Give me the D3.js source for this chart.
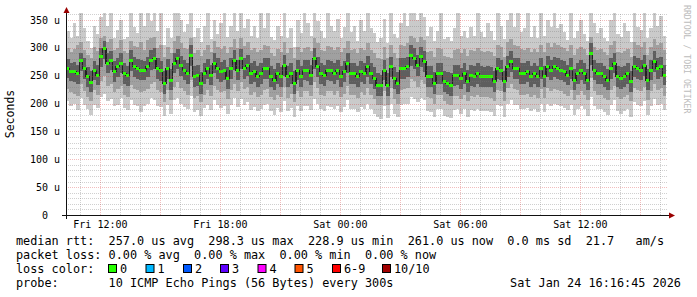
<!DOCTYPE html>
<html>
<head>
<meta charset="utf-8">
<script src="https://cdn.jsdelivr.net/npm/d3@7"></script>
<style>
  html, body { margin: 0; padding: 0; background: #fff; }
  svg { display: block; }
  text { font-family: "DejaVu Sans Mono", monospace; white-space: pre; }
</style>
</head>
<body>
<svg class="chart" width="697" height="297"></svg>
<script>
// 30 hours of smokeping data, one bin every 10 minutes (values in microseconds)
const startTime = Date.UTC(2026, 0, 23, 10, 16, 45);
const endTime = Date.UTC(2026, 0, 24, 16, 16, 45);
const stepMinutes = 10;

const median = [
  263,257,257,254,277,263,248,237,260,251,284,299,272,278,257,266,272,254,251,278,
  266,263,260,260,266,278,281,263,260,236,263,242,272,281,269,260,254,287,248,251,
  236,254,263,251,272,263,257,260,245,263,278,260,281,263,269,254,257,248,254,263,
  263,248,242,254,248,269,248,254,236,260,248,260,260,251,281,266,254,251,260,260,
  254,260,248,257,272,254,254,248,257,254,266,254,245,233,233,260,233,266,245,236,
  263,263,266,287,281,269,284,275,248,248,236,254,254,239,236,233,251,251,245,254,
  239,251,248,254,248,248,248,248,239,263,260,239,266,275,263,263,254,254,257,248,
  254,248,263,248,266,260,266,263,260,257,251,263,242,254,260,254,242,290,260,254,
  254,248,242,263,272,248,245,248,254,239,266,263,260,269,242,260,275,263,266,251
];

// innermost (dark) smoke band
const hi3 = [
  280,272,275,270,290,281,266,258,276,270,300,312,290,295,276,282,290,272,268,296,
  283,280,278,276,284,296,300,281,276,258,280,262,290,298,286,278,272,305,268,270,
  256,272,280,270,290,282,275,278,265,282,296,278,298,282,288,272,276,268,272,281,
  282,268,262,272,266,288,268,272,258,278,268,278,279,270,300,284,272,270,278,277,
  272,278,268,276,290,273,272,268,276,272,285,272,265,254,252,278,255,284,266,256,
  282,282,284,305,300,288,302,294,268,268,256,272,273,258,256,254,270,270,264,273,
  260,270,267,272,267,266,268,266,258,282,279,258,285,294,282,282,273,272,276,268,
  273,268,282,268,285,279,284,282,279,276,270,282,262,272,279,273,262,308,279,273,
  273,268,262,282,290,267,265,268,273,258,285,282,279,288,262,279,294,282,284,270
];
const lo3 = [
  246,240,238,236,258,244,230,220,242,233,266,280,254,260,238,248,254,236,232,258,
  248,245,242,242,248,260,262,245,240,218,245,224,254,262,250,242,236,268,230,232,
  218,236,244,233,254,245,238,242,226,244,260,242,262,245,250,236,238,230,236,244,
  245,230,224,236,230,250,230,236,218,242,230,242,241,233,262,248,236,232,242,241,
  236,242,230,238,254,236,235,230,238,236,248,236,226,214,214,242,214,248,226,218,
  244,245,248,268,262,250,266,256,230,229,218,236,236,220,218,214,232,233,226,236,
  220,232,230,236,229,230,230,229,220,245,242,220,248,256,245,244,236,235,238,230,
  236,230,245,229,248,242,247,245,242,238,233,245,224,236,242,236,224,270,242,236,
  236,229,224,245,254,230,226,230,236,220,248,245,242,250,224,242,256,245,248,233
];

// middle smoke band
const hi2 = [
  300,292,298,305,310,296,288,282,302,294,318,322,310,316,296,300,314,295,290,312,
  304,302,310,296,315,318,320,300,306,284,302,290,312,322,308,300,298,318,290,296,
  285,296,306,292,312,302,298,304,290,302,316,300,318,304,310,296,300,292,296,306,
  304,290,286,298,292,310,290,300,282,302,292,300,302,294,318,308,296,294,304,302,
  296,302,292,300,312,296,298,290,300,296,308,296,290,282,280,302,282,306,290,282,
  306,304,308,322,318,310,320,314,292,294,284,300,298,286,284,282,296,298,290,298,
  286,296,294,300,294,292,294,292,286,306,302,284,310,316,306,304,298,296,300,292,
  298,292,306,292,308,302,308,306,302,300,294,306,288,298,302,298,288,320,302,296,
  298,292,288,306,312,292,290,294,298,284,310,306,302,310,288,302,316,306,308,296
];
const lo2 = [
  226,220,218,214,236,222,212,204,224,216,240,250,232,236,220,226,232,216,212,234,
  226,224,220,222,226,236,238,224,220,202,224,206,230,238,228,222,216,242,210,214,
  202,216,224,214,232,224,220,222,208,224,236,222,238,226,230,216,220,212,216,224,
  226,212,206,216,212,230,210,218,202,222,212,222,222,214,238,228,216,214,222,222,
  216,222,212,218,232,216,216,210,220,216,228,216,208,198,198,222,198,228,208,200,
  224,226,228,244,240,230,242,236,212,210,200,216,216,204,200,198,214,214,208,216,
  204,214,212,216,212,212,212,210,204,224,222,204,228,236,226,224,216,216,218,212,
  216,210,226,210,228,222,226,224,222,218,214,224,206,216,222,216,206,246,222,216,
  216,210,206,224,232,212,208,212,216,204,228,224,222,230,206,222,236,224,228,214
];

// outer (light) smoke band: min and max ping
const hi1 = [
  330,318,345,322,362,336,312,300,340,325,355,362,340,362,318,332,350,316,320,362,
  338,326,362,340,362,348,362,330,362,305,336,318,362,362,350,328,342,362,320,335,
  310,340,362,316,350,325,345,362,320,340,362,330,362,335,352,322,340,318,362,335,
  362,320,315,340,322,362,318,335,302,350,326,362,345,322,362,348,330,318,362,340,
  330,352,318,338,362,328,340,312,350,330,362,335,326,310,318,352,308,362,325,318,
  345,362,340,362,362,350,362,355,322,338,312,330,362,316,320,312,336,362,322,330,
  318,338,322,362,328,320,345,330,314,362,340,316,350,362,338,362,328,335,362,320,
  340,318,362,322,350,338,362,335,342,328,315,362,318,330,350,325,312,362,345,326,
  336,318,312,350,362,325,320,345,330,310,362,338,332,362,318,335,362,340,358,322
];
const lo1 = [
  205,196,200,188,210,198,190,180,198,192,212,218,205,208,195,198,210,192,188,206,
  198,196,184,196,200,210,206,196,194,178,198,182,206,210,200,194,190,214,184,188,
  178,192,198,188,206,198,192,196,182,198,210,194,208,198,202,188,194,186,190,198,
  200,186,180,192,184,204,186,192,176,196,186,196,196,188,208,200,190,186,196,194,
  190,196,184,194,206,190,190,184,194,190,200,190,182,176,172,196,174,200,182,176,
  198,200,200,212,208,202,210,206,186,184,176,190,190,178,176,174,188,190,182,190,
  176,188,186,190,186,186,186,184,178,198,196,176,200,206,198,198,190,190,192,186,
  190,184,200,184,200,196,200,198,196,192,188,198,180,190,196,190,178,212,196,190,
  190,184,180,198,206,186,182,186,190,176,202,198,196,204,180,196,208,198,200,188
];

const yTicks = [0, 50, 100, 150, 200, 250, 300, 350];
const yTickLabels = ["0  ", "50 u", "100 u", "150 u", "200 u", "250 u", "300 u", "350 u"];

const legendRows = [
  "median rtt:  257.0 us avg  298.3 us max  228.9 us min  261.0 us now  0.0 ms sd  21.7   am/s",
  "packet loss: 0.00 % avg  0.00 % max  0.00 % min  0.00 % now",
  "loss color:",
  "probe:       10 ICMP Echo Pings (56 Bytes) every 300s"
];
const stampText = "Sat Jan 24 16:16:45 2026";
const lossLabels = ["0", "1", "2", "3", "4", "5", "6-9", "10/10"];
const lossColors = ["#26ff00", "#00b8ff", "#0059ff", "#5e00ff", "#ff00ff", "#ff5500", "#ff0000", "#a10000"];

const svg = d3.select(".chart");

const left = 66, right = 666, bottom = 215;

const x = d3.scaleUtc().domain([startTime, endTime]).range([left, right]);
const y = d3.scaleLinear().domain([0, 350]).range([bottom, 20]);

const binStart = (i) => startTime + i * stepMinutes * 60000;
const binX0 = (i) => x(binStart(i));
const binW = (i) => x(binStart(i + 1)) - x(binStart(i));

const plot = svg.append("g").attr("shape-rendering", "crispEdges");

// smoke bands, light to dark
const bands = [
  { lo: lo1, hi: hi1, color: "#cacaca" },
  { lo: lo2, hi: hi2, color: "#a0a0a0" },
  { lo: lo3, hi: hi3, color: "#5e5e5e" },
];

bands.forEach((band) => {
  plot
    .append("g")
    .selectAll("rect")
    .data(median)
    .enter()
    .append("rect")
    .attr("x", (d, i) => binX0(i))
    .attr("width", (d, i) => binW(i) + 0.4)
    .attr("y", (d, i) => y(band.hi[i]))
    .attr("height", (d, i) => y(band.lo[i]) - y(band.hi[i]))
    .attr("fill", band.color);
});

// dark step line joining the medians
const medLine = d3
  .line()
  .x((d, i) => binX0(i))
  .y((d) => y(d))
  .curve(d3.curveStepAfter);

plot
  .append("path")
  .attr("d", medLine(median.concat([median[median.length - 1]])))
  .attr("fill", "none")
  .attr("stroke", "#222")
  .attr("stroke-width", 1.2);

// grid (drawn over the smoke, like rrdtool)
const grid = svg.append("g").attr("shape-rendering", "crispEdges");
const minorColor = "rgba(120,120,120,0.35)";
const majorColor = "rgba(215,50,50,0.32)";

const minorY = d3.range(10, 361, 10).filter((v) => v % 50 !== 0);
grid
  .selectAll(".hminor")
  .data(minorY)
  .enter()
  .append("line")
  .attr("x1", left)
  .attr("x2", 668)
  .attr("y1", (d) => Math.round(y(d)) + 0.5)
  .attr("y2", (d) => Math.round(y(d)) + 0.5)
  .attr("stroke", minorColor)
  .attr("stroke-dasharray", "1,1");

const hours = d3.utcHour.range(startTime, endTime);
grid
  .selectAll(".vminor")
  .data(hours.filter((h) => h.getUTCHours() % 3 !== 0))
  .enter()
  .append("line")
  .attr("x1", (d) => Math.round(x(d)) + 0.5)
  .attr("x2", (d) => Math.round(x(d)) + 0.5)
  .attr("y1", 14)
  .attr("y2", bottom)
  .attr("stroke", minorColor)
  .attr("stroke-dasharray", "1,1");

grid
  .selectAll(".hmajor")
  .data(yTicks.slice(1))
  .enter()
  .append("line")
  .attr("x1", left)
  .attr("x2", 668)
  .attr("y1", (d) => Math.round(y(d)) + 0.5)
  .attr("y2", (d) => Math.round(y(d)) + 0.5)
  .attr("stroke", majorColor)
  .attr("stroke-dasharray", "1,1");

grid
  .selectAll(".vmajor")
  .data(hours.filter((h) => h.getUTCHours() % 3 === 0))
  .enter()
  .append("line")
  .attr("x1", (d) => Math.round(x(d)) + 0.5)
  .attr("x2", (d) => Math.round(x(d)) + 0.5)
  .attr("y1", 14)
  .attr("y2", bottom)
  .attr("stroke", majorColor)
  .attr("stroke-dasharray", "1,1");

// green median marks on top
plot
  .append("g")
  .selectAll("rect")
  .data(median)
  .enter()
  .append("rect")
  .attr("x", (d, i) => binX0(i))
  .attr("width", (d, i) => binW(i))
  .attr("y", (d) => y(d) - 1.5)
  .attr("height", 3)
  .attr("fill", lossColors[0]);

// axes
const axis = svg.append("g").attr("shape-rendering", "crispEdges");
axis.append("line").attr("x1", 62).attr("x2", 670).attr("y1", bottom + 0.5).attr("y2", bottom + 0.5).attr("stroke", "#111");
axis.append("line").attr("x1", left + 0.5).attr("x2", left + 0.5).attr("y1", 219).attr("y2", 12).attr("stroke", "#111");
svg.append("path").attr("d", `M${left - 2.5},13 L${left + 3.5},13 L${left + 0.5},7 Z`).attr("fill", "#9a0000");
svg.append("path").attr("d", `M669,${bottom - 2.5} L669,${bottom + 3.5} L675,${bottom + 0.5} Z`).attr("fill", "#9a0000");

// y tick labels
svg
  .append("g")
  .selectAll("text")
  .data(yTicks)
  .enter()
  .append("text")
  .attr("x", 60)
  .attr("y", (d) => y(d) + 3.6)
  .attr("text-anchor", "end")
  .attr("font-size", 10)
  .attr("fill", "#000")
  .text((d, i) => yTickLabels[i]);

// x tick labels every 6 hours
const labelHours = hours.filter((h) => h.getUTCHours() % 6 === 0);
const fmt = d3.utcFormat("%a %H:%M");
svg
  .append("g")
  .selectAll("text")
  .data(labelHours)
  .enter()
  .append("text")
  .attr("x", (d) => x(d))
  .attr("y", 227.5)
  .attr("text-anchor", "middle")
  .attr("font-size", 10)
  .attr("fill", "#000")
  .text((d) => fmt(d));

// axis title
svg
  .append("text")
  .attr("transform", "translate(14,114) rotate(-90)")
  .attr("text-anchor", "middle")
  .attr("font-size", 11.5)
  .attr("fill", "#000")
  .text("Seconds");

// watermark
svg
  .append("text")
  .attr("transform", "translate(683.5,5) rotate(90)")
  .attr("font-size", 8.2)
  .attr("fill", "#bcbcbc")
  .text("RRDTOOL / TOBI OETIKER");

// legend
const legendSize = 11.83;
const legend = svg.append("g").attr("font-size", legendSize).attr("fill", "#000");
legendRows.forEach((row, i) => {
  legend.append("text").attr("x", 16).attr("y", 244.5 + i * 14).text(row);
});
legend.append("text").attr("x", 681).attr("y", 244.5 + 3 * 14).attr("text-anchor", "end").text(stampText);

const boxX = [108, 145.5, 183, 220, 257.5, 294.5, 332, 382];
const lossG = svg.append("g");
lossG
  .selectAll("rect")
  .data(lossLabels)
  .enter()
  .append("rect")
  .attr("x", (d, i) => boxX[i] + 0.5)
  .attr("y", 264.5)
  .attr("width", 8)
  .attr("height", 8)
  .attr("fill", (d, i) => lossColors[i])
  .attr("stroke", "#000")
  .attr("stroke-width", 1);
lossG
  .selectAll("text")
  .data(lossLabels)
  .enter()
  .append("text")
  .attr("x", (d, i) => boxX[i] + 12)
  .attr("y", 272.5)
  .attr("font-size", legendSize)
  .attr("fill", "#000")
  .text((d) => d);
</script>
</body>
</html>
